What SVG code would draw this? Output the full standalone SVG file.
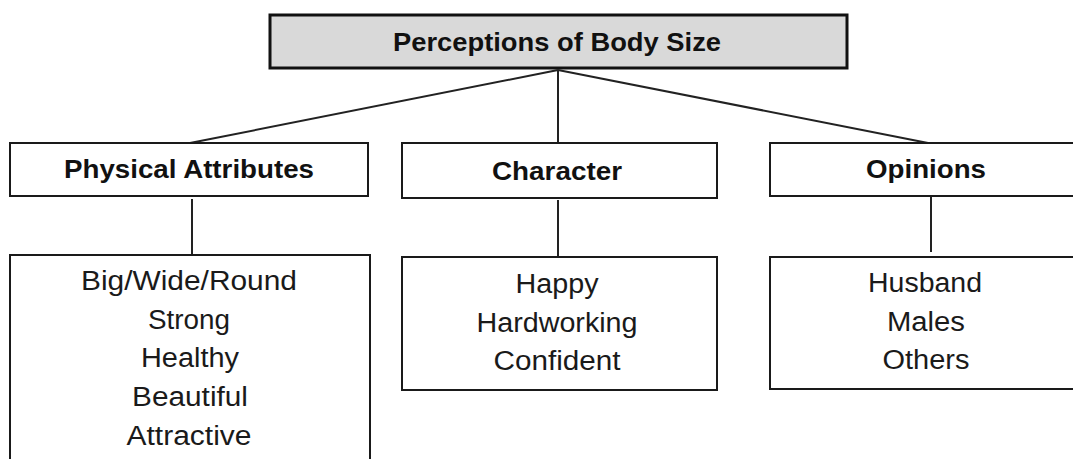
<svg xmlns="http://www.w3.org/2000/svg" width="1073" height="459" viewBox="0 0 1073 459">
<style>
.box{fill:#fff;stroke:#1a1a1a;stroke-width:2}
.top{fill:#d9d9d9;stroke:#111;stroke-width:3}
.h{font-family:"Liberation Sans",Arial,sans-serif;font-weight:bold;font-size:25px;fill:#111;text-anchor:middle}
.t{font-family:"Liberation Sans",Arial,sans-serif;font-size:27px;fill:#1a1a1a;text-anchor:middle}
.c{stroke:#222;stroke-width:2;fill:none}
</style>
<rect width="1073" height="459" fill="#fff"/>
<g id="connectors">
<line class="c" x1="558" y1="70" x2="190" y2="143"/>
<line class="c" x1="558" y1="70" x2="558" y2="143"/>
<line class="c" x1="558" y1="70" x2="928" y2="143"/>
<line class="c" x1="192" y1="199" x2="192" y2="255"/>
<line class="c" x1="558" y1="200" x2="558" y2="257"/>
<line class="c" x1="931" y1="197" x2="931" y2="252"/>
</g>
<g id="root">
<rect class="top" x="270" y="15" width="577" height="53"/>
<text class="h" x="557" y="51" textLength="328" lengthAdjust="spacingAndGlyphs">Perceptions of Body Size</text>
</g>
<g id="physical">
<rect class="box" x="10" y="143" width="358" height="53"/>
<text class="h" x="189" y="178" textLength="250" lengthAdjust="spacingAndGlyphs">Physical Attributes</text>
</g>
<g id="character">
<rect class="box" x="402" y="143" width="315" height="55"/>
<text class="h" x="557" y="180" textLength="130" lengthAdjust="spacingAndGlyphs">Character</text>
</g>
<g id="opinions">
<rect class="box" x="770" y="143" width="310" height="53"/>
<text class="h" x="926" y="178" textLength="120" lengthAdjust="spacingAndGlyphs">Opinions</text>
</g>
<g id="physical-items">
<rect class="box" x="10" y="255" width="360" height="220"/>
<text class="t" x="189" y="290" textLength="216" lengthAdjust="spacingAndGlyphs">Big/Wide/Round</text>
<text class="t" x="189" y="329" textLength="82" lengthAdjust="spacingAndGlyphs">Strong</text>
<text class="t" x="190" y="367" textLength="98" lengthAdjust="spacingAndGlyphs">Healthy</text>
<text class="t" x="190" y="406" textLength="116" lengthAdjust="spacingAndGlyphs">Beautiful</text>
<text class="t" x="189" y="445" textLength="125" lengthAdjust="spacingAndGlyphs">Attractive</text>
</g>
<g id="character-items">
<rect class="box" x="402" y="257" width="315" height="133"/>
<text class="t" x="557" y="293" textLength="83" lengthAdjust="spacingAndGlyphs">Happy</text>
<text class="t" x="557" y="332" textLength="161" lengthAdjust="spacingAndGlyphs">Hardworking</text>
<text class="t" x="557" y="370" textLength="127" lengthAdjust="spacingAndGlyphs">Confident</text>
</g>
<g id="opinions-items">
<rect class="box" x="770" y="257" width="310" height="132"/>
<text class="t" x="925" y="292" textLength="114" lengthAdjust="spacingAndGlyphs">Husband</text>
<text class="t" x="926" y="331" textLength="78" lengthAdjust="spacingAndGlyphs">Males</text>
<text class="t" x="926" y="369" textLength="87" lengthAdjust="spacingAndGlyphs">Others</text>
</g>
</svg>
